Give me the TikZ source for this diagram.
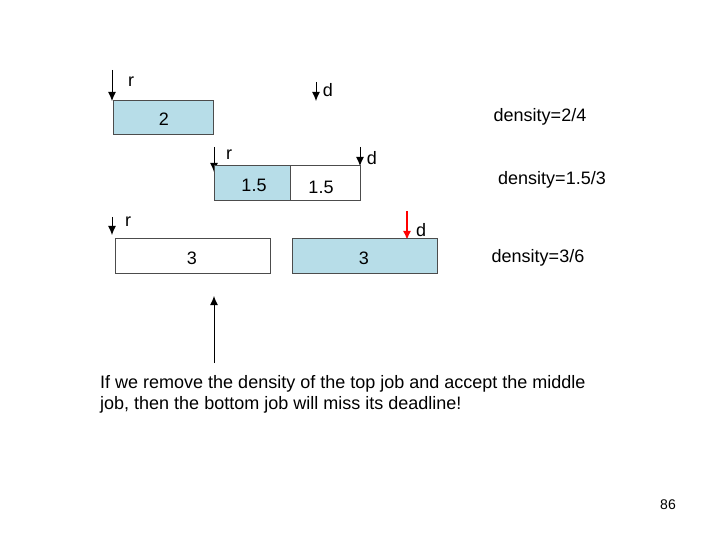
\documentclass[tikz,border=0pt]{standalone}
\usepackage{fontspec}
\setmainfont{Liberation Sans}
\usetikzlibrary{arrows.meta}
\begin{document}
\begin{tikzpicture}[x=1pt,y=-1pt,
  lb/.style={font=\fontsize{18}{21}\selectfont, inner sep=0pt},
  job/.style={draw=black!70, line width=0.6pt, anchor=north west, inner sep=0pt},
  blue/.style={job, fill={rgb,255:red,183;green,221;blue,232}},
  white/.style={job, fill=white},
  arr/.style={-{Latex[length=9pt,width=8pt]}, line width=1pt}]
\useasboundingbox (0,0) rectangle (720,540);
% row 1
\coordinate (r1a) at (112,70); \coordinate (r1b) at (112,101);
\draw[arr] (r1a) -- (r1b);
\node[lb] (r1) at (131,82) {r};
\coordinate (d1a) at (316,82); \coordinate (d1b) at (316,101);
\draw[arr] (d1a) -- (d1b);
\node[lb] (d1) at (328,90) {d};
\node[blue, minimum width=100pt, minimum height=34pt] (b1) at (113,100) {};
\node[lb] (t1) at (164,119) {2};
\node[lb] (den1) at (540,117) {density=2/4};
% row 2
\coordinate (r2a) at (214,147); \coordinate (r2b) at (214,172);
\draw[arr] (r2a) -- (r2b);
\node[lb] (r2) at (229,155) {r};
\coordinate (d2a) at (360,147); \coordinate (d2b) at (360,166);
\draw[arr] (d2a) -- (d2b);
\node[lb] (d2) at (372,158) {d};
\node[blue, minimum width=76pt, minimum height=35pt] (b2) at (214,165) {};
\node[white, minimum width=70pt, minimum height=35pt] (b3) at (290,165) {};
\node[lb] (t2) at (254,185) {1.5};
\node[lb] (t3) at (321,187) {1.5};
\node[lb] (den2) at (552,180) {density=1.5/3};
% row 3
\coordinate (r3a) at (112,217); \coordinate (r3b) at (112,235);
\draw[arr] (r3a) -- (r3b);
\node[lb] (r3) at (128,222) {r};
\coordinate (d3a) at (407,211); \coordinate (d3b) at (407,240);
\draw[arr, red, line width=1.6pt] (d3a) -- (d3b);
\node[lb] (d3) at (421,230) {d};
\node[white, minimum width=155pt, minimum height=35pt] (b4) at (115,238) {};
\node[blue, minimum width=145pt, minimum height=35pt] (b5) at (292,238) {};
\node[lb] (t4) at (192,258) {3};
\node[lb] (t5) at (364,258) {3};
\node[lb] (den3) at (538,258) {density=3/6};
% up arrow
\coordinate (ua) at (214,363); \coordinate (ub) at (214,296);
\draw[arr] (ua) -- (ub);
\node[lb, anchor=north west, align=left] (txt) at (100,375) {If we remove the density of the top job and accept the middle\\job, then the bottom job will miss its deadline!};
\node[font=\fontsize{14}{16}\selectfont, inner sep=0pt] (pg) at (668,505) {86};
\end{tikzpicture}
\end{document}
